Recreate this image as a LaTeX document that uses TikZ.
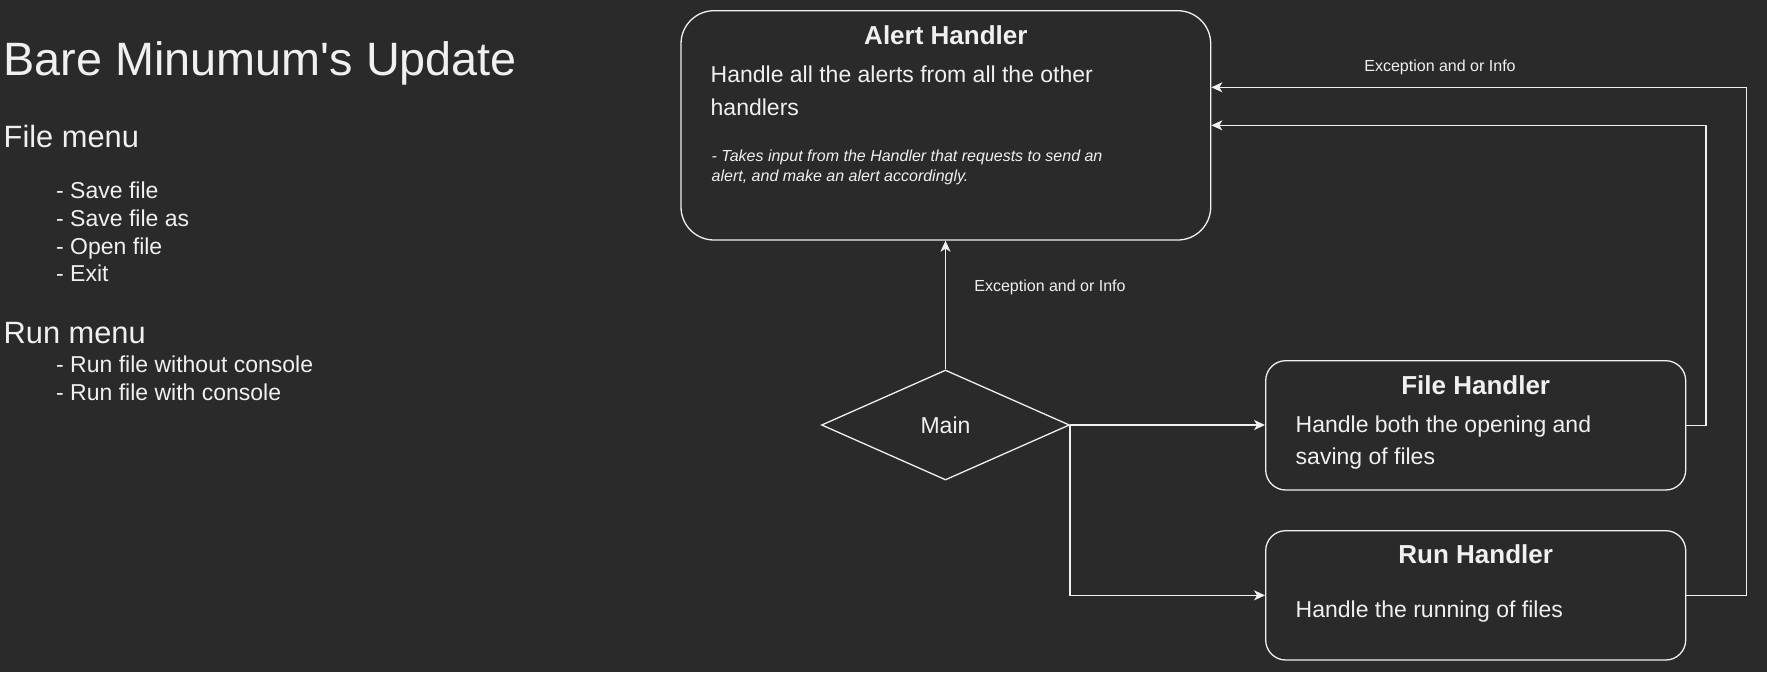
\documentclass[tikz,border=0pt]{standalone}
\usepackage{fontspec}
\setmainfont{Liberation Sans}[Ligatures=TeXOff]
\usetikzlibrary{shapes.geometric,arrows.meta}
\definecolor{bg}{HTML}{2A2A2A}
\definecolor{fg}{HTML}{F0F0F0}
\newcommand{\fsTitle}{\fontsize{46.8pt}{56pt}\selectfont}
\newcommand{\fsHead}{\fontsize{30.8pt}{37pt}\selectfont}
\newcommand{\fsBody}{\fontsize{23pt}{28pt}\selectfont}
\newcommand{\fsBoxTitle}{\fontsize{26pt}{31pt}\selectfont\bfseries}
\newcommand{\fsSmall}{\fontsize{16pt}{19pt}\selectfont}
\begin{document}
\begin{tikzpicture}[x=1pt,y=-1pt,
  txt/.style={text=fg, inner sep=0pt, anchor=base west},
  ctxt/.style={text=fg, inner sep=0pt, anchor=base},
  box/.style={draw=fg, line width=1.3pt, fill=bg, inner sep=0pt},
  decision/.style={draw=fg, line width=1.3pt, fill=bg, diamond, inner sep=0pt,
    minimum width=248pt, minimum height=110pt, text=fg, font=\fsBody},
  conn/.style={draw=fg, line width=1.5pt,
    -{Stealth[length=11pt,width=10pt,inset=3pt]}}]
\fill[bg] (0,0) rectangle (1767,672);
\useasboundingbox (0,0) rectangle (1767,672);

% left notes
\node[txt, font=\fsTitle] (title) at (3.3,75) {Bare Minumum's Update};
\node[txt, font=\fsHead] (filemenu) at (3.5,147.3) {File menu};
\node[txt, font=\fsBody] (i1) at (56,198.3) {- Save file};
\node[txt, font=\fsBody] (i2) at (56,226) {- Save file as};
\node[txt, font=\fsBody] (i3) at (56,254) {- Open file};
\node[txt, font=\fsBody] (i4) at (56,281) {- Exit};
\node[txt, font=\fsHead] (runmenu) at (3.5,343.3) {Run menu};
\node[txt, font=\fsBody] (i5) at (56,372.3) {- Run file without console};
\node[txt, font=\fsBody] (i6) at (56,400) {- Run file with console};

% boxes
\node[box, rounded corners=33pt, minimum width=529.7pt, minimum height=229.3pt]
  (alert) at (945.85,125.35) {};
\node[box, rounded corners=20pt, minimum width=420pt, minimum height=129.3pt]
  (file) at (1475.7,425.35) {};
\node[box, rounded corners=20pt, minimum width=420pt, minimum height=129.3pt]
  (run) at (1475.7,595.35) {};
\node[decision] (main) at (945.5,425) {Main};

% box texts
\node[ctxt, font=\fsBoxTitle] (alertT) at (945.85,44) {Alert Handler};
\node[txt, font=\fsBody] (alertB1) at (710.5,82.7) {Handle all the alerts from all the other};
\node[txt, font=\fsBody] (alertB2) at (710.5,115) {handlers};
\node[txt, font=\fsSmall\itshape] (alertI1) at (711.5,161.7) {- Takes input from the Handler that requests to send an};
\node[txt, font=\fsSmall\itshape] (alertI2) at (711.5,181) {alert, and make an alert accordingly.};

\node[ctxt, font=\fsBoxTitle] (fileT) at (1475.7,394) {File Handler};
\node[txt, font=\fsBody] (fileB1) at (1295.5,432.7) {Handle both the opening and};
\node[txt, font=\fsBody] (fileB2) at (1295.5,464.3) {saving of files};

\node[ctxt, font=\fsBoxTitle] (runT) at (1475.7,563.3) {Run Handler};
\node[txt, font=\fsBody] (runB) at (1295.5,617.3) {Handle the running of files};

% connectors
\coordinate (c1) at (1706,125.3);
\coordinate (c2) at (1746.7,87.3);
\draw[conn] (main.north) -- (main.north |- alert.south);
\draw[conn] (main.east) -- (main.east -| file.west);
\draw[conn] (main.east) |- (run.west);
\draw[conn] (file.east) -| (c1) -- (c1 -| alert.east);
\draw[conn] (run.east) -| (c2) -- (c2 -| alert.east);

% labels
\node[ctxt, font=\fsSmall] (lbl1) at (1440,71) {Exception and or Info};
\node[ctxt, font=\fsSmall] (lbl2) at (1050,291.5) {Exception and or Info};
\end{tikzpicture}
\end{document}
